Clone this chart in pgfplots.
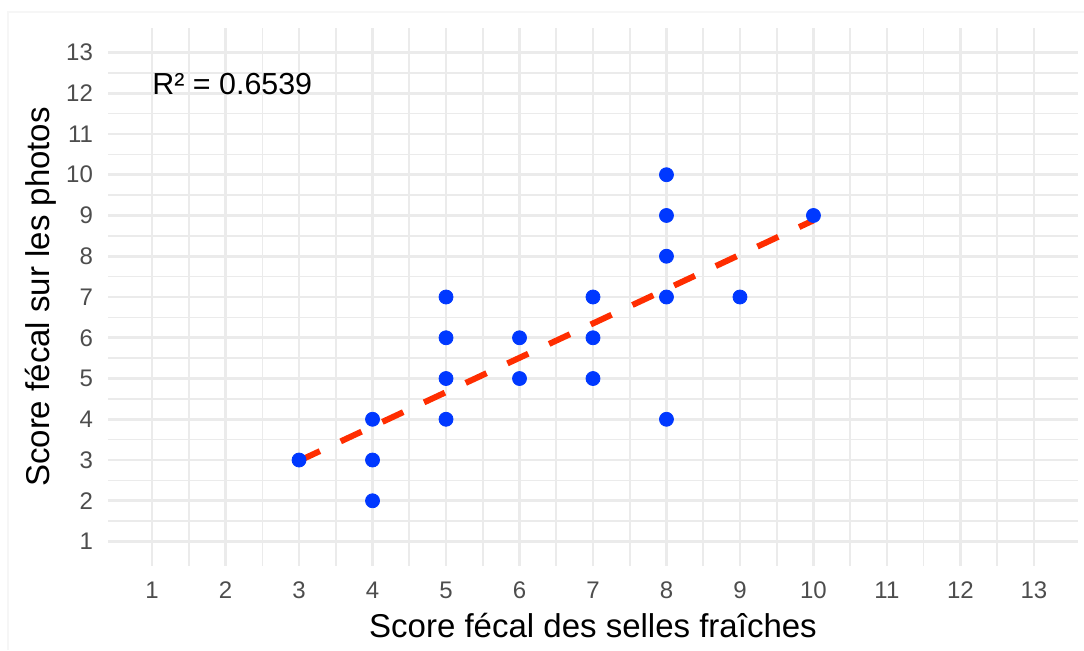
\documentclass[border=0pt]{standalone}
\usepackage{pgfplots}
\pgfplotsset{compat=1.18}
\usepackage{fontspec}
\setmainfont{Liberation Sans}

\definecolor{gridc}{HTML}{EBEBEB}
\definecolor{ticktext}{HTML}{4D4D4D}
\definecolor{ptblue}{RGB}{0,56,255}
\definecolor{fitred}{RGB}{255,45,0}

\begin{document}
\begin{tikzpicture}
\useasboundingbox (-54pt,-42pt) rectangle (488pt,283pt);
\draw[gray!7, line width=0.6pt] (-50pt,-42pt) -- (-50pt,277pt) -- (488pt,277pt);
\begin{axis}[
  at={(0,0)}, anchor=south west, scale only axis,
  width=485pt, height=269pt,
  xmin=0.4, xmax=13.6, ymin=0.4, ymax=13.6,
  xtick={1,...,13}, ytick={1,...,13},
  minor tick num=1,
  grid=both,
  major grid style={draw=gridc, line width=1.4pt},
  minor grid style={draw=gridc, line width=0.8pt},
  axis line style={draw=none},
  major tick length=0pt, minor tick length=0pt,
  tick label style={font=\fontsize{12}{14}\selectfont, text=ticktext},
  /pgf/number format/assume math mode=true,
  xticklabel style={yshift=-4.5pt},
  yticklabel style={xshift=-4pt},
  xlabel={Score fécal des selles fraîches},
  ylabel={Score fécal sur les photos},
  label style={font=\fontsize{16.5}{19}\selectfont},
  xlabel style={at={(axis description cs:0.5,-0.1338)}, anchor=base},
  ylabel style={at={(axis description cs:-0.0608,0.5)}, anchor=base},
  clip=false,
]
% observed scores
\addplot[only marks, mark=*, mark size=3.5pt, color=ptblue] coordinates {
  (3,3) (4,4) (4,3) (4,2)
  (5,7) (5,6) (5,5) (5,4)
  (6,6) (6,5)
  (7,7) (7,6) (7,5)
  (8,10) (8,9) (8,8) (8,7) (8,4)
  (9,7) (10,9)
};
% linear fit
\addplot[fitred, line width=3pt, line cap=butt, dash pattern=on 11.5pt off 11.5pt] coordinates {
  (3,2.98) (10,8.88)
};
\node[anchor=west, inner sep=0pt, font=\fontsize{15.2}{18}\selectfont] at (axis cs:1,12.22) {R² = 0.6539};
\end{axis}
\end{tikzpicture}
\end{document}
